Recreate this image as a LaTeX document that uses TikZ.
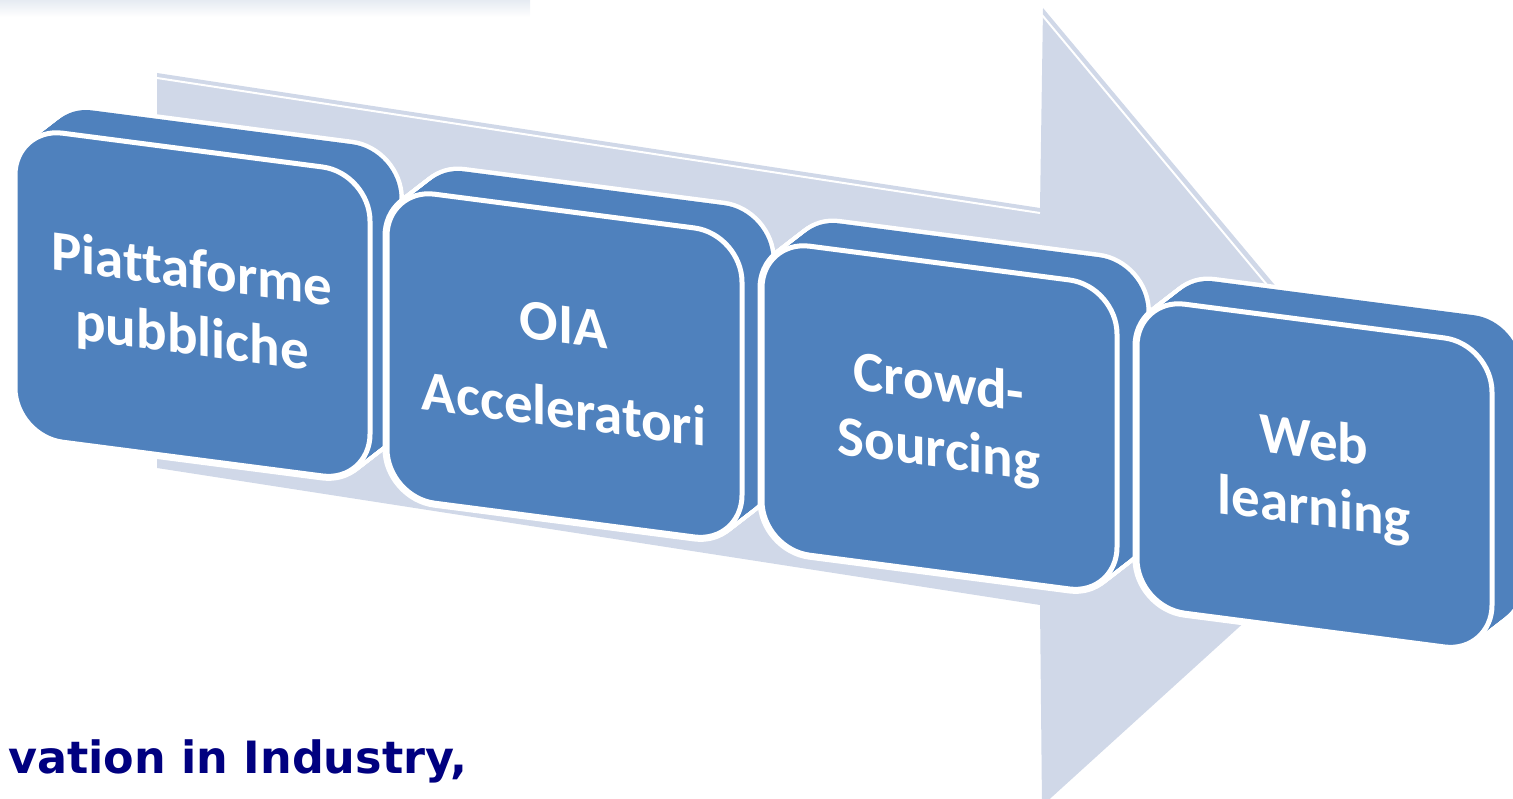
\documentclass[tikz,border=0pt]{standalone}
\usepackage{fontspec}
\newfontfamily\boxfont{Carlito}[Ligatures=NoCommon]
\newfontfamily\capfont{DejaVu Sans}
\definecolor{boxblue}{HTML}{4F81BD}
\definecolor{arrowgray}{HTML}{D0D8E8}
\definecolor{navyblue}{HTML}{000080}
\definecolor{barblue}{HTML}{E6EBF2}
\tikzset{
    rim/.style={draw=white, line width=9pt, rounded corners=48pt},
    body/.style={fill=boxblue, rounded corners=48pt},
    face/.style={fill=boxblue, draw=white, line width=5pt, rounded corners=48pt},
    boxtext/.style={text=white, align=center, transform shape, inner sep=0pt,
    	font=\boxfont\bfseries\fontsize{57}{67}\selectfont}
}

\begin{document}
\begin{tikzpicture}[x=1pt, y=-1pt]
  \useasboundingbox (0,0) rectangle (1513,799);
  \clip (0,0) rectangle (1513,799);

  \shade[top color=barblue, bottom color=white] (0,0) rectangle (530,17);

  % arrow behind the blocks
  \fill[arrowgray] (157,73) -- (1040,208) -- (1043,8) -- (1422,461)
    -- (1042,806) -- (1040,605) -- (157,468) -- cycle;
  \draw[white, line width=2pt] (157,78) -- (1040,213);
  \draw[white, line width=2pt] (1042,15) -- (1418,466);

  % blocks
  \foreach \bx/\by/\txt [count=\i] in {15/127/{Piattaforme\\pubbliche},
      387/188/{OIA\\[18pt]Acceleratori}, 762/240/{Crowd-\\Sourcing},
      1137/298/{Web\\learning}}{
    \begin{scope}[shift={(\bx,\by)}, yslant=-0.13]
      \foreach \t in {0,0.05,...,1}
        \draw[rim, shift={(31*\t,-28*\t)}] (0,0) -- (355,0) -- (355,309) -- (0,309) -- cycle;
      \foreach \t in {0,0.05,...,1}
        \fill[body, shift={(31*\t,-28*\t)}] (0,0) -- (355,0) -- (355,309) -- (0,309) -- cycle;
      \draw[face] (0,0) -- (355,0) -- (355,309) -- (0,309) -- cycle;
      \node[boxtext] (b\i) at (177,156) {\txt};
    \end{scope}
  }

  \node[anchor=base east, inner sep=0pt, text=navyblue,
    font=\capfont\bfseries\fontsize{44.5}{50}\selectfont] (tagline) at (468,773)
    {vation in Industry,};
\end{tikzpicture}
\end{document}
